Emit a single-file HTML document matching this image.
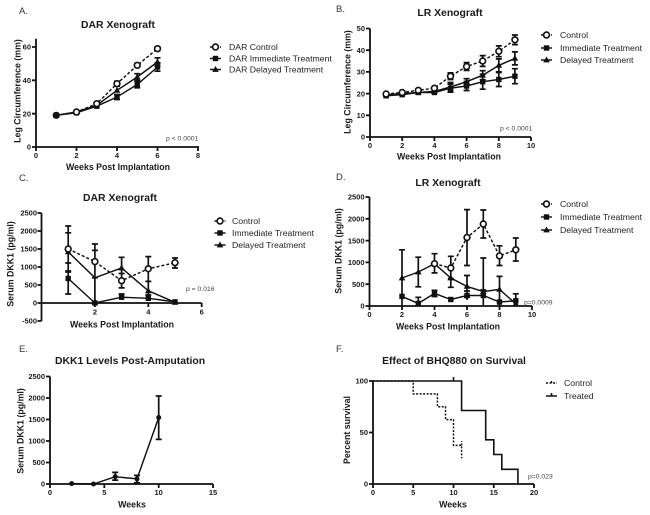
<!DOCTYPE html>
<html><head><meta charset="utf-8"><style>
html,body{margin:0;padding:0;background:#fff;}
svg{display:block;font-family:"Liberation Sans",Arial,sans-serif;}
.ax{stroke:#111;stroke-width:1.8;fill:none;}
.ln{stroke:#111;stroke-width:1.45;fill:none;}
.ds{stroke-dasharray:3 2;}
.eb{stroke:#111;stroke-width:1.7;fill:none;}
.tl{font-weight:bold;font-size:7.5px;fill:#1a1a1a;}
.ttl{font-weight:bold;font-size:10.4px;fill:#1a1a1a;text-anchor:middle;}
.axl{font-weight:bold;font-size:8.8px;fill:#1a1a1a;text-anchor:middle;}
.lg{font-size:8.7px;fill:#222;}
.pl{font-size:9.5px;fill:#333;}
.pv{font-size:6.8px;fill:#444;}
</style></head><body>
<svg width="650" height="515" viewBox="0 0 650 515" xmlns="http://www.w3.org/2000/svg">
<defs>
<circle id="mc" r="2.9" fill="#fff" stroke="#111" stroke-width="1.6"/>
<rect id="ms" x="-2.7" y="-2.7" width="5.4" height="5.4" fill="#111"/>
<path id="mt" d="M0,-3.5L3.3,2.4L-3.3,2.4Z" fill="#111"/>
<circle id="md" r="2.5" fill="#111"/>
</defs>

<!-- Panel letters -->
<text class="pl" x="19" y="14">A.</text>
<text class="pl" x="336" y="12">B.</text>
<text class="pl" x="19" y="181">C.</text>
<text class="pl" x="336" y="180">D.</text>
<text class="pl" x="19" y="352">E.</text>
<text class="pl" x="336" y="352">F.</text>

<!-- ===== Panel A ===== -->
<text class="ttl" x="118" y="28">DAR Xenograft</text>
<path class="ax" d="M36,38.7V147H199"/>
<path class="ax" d="M32,147h4M32,113.7h4M32,80.3h4M32,47h4M36,147v4M76.5,147v4M117,147v4M157.5,147v4M198,147v4"/>
<g class="tl" text-anchor="end">
<text x="31" y="149.7">0</text><text x="31" y="116.4">20</text><text x="31" y="83">40</text><text x="31" y="49.7">60</text>
</g>
<g class="tl" text-anchor="middle">
<text x="36" y="158">0</text><text x="76.5" y="158">2</text><text x="117" y="158">4</text><text x="157.5" y="158">6</text><text x="198" y="158">8</text>
</g>
<text class="axl" x="118" y="170">Weeks Post Implantation</text>
<text class="axl" transform="translate(20.5,91) rotate(-90)">Leg Circumference (mm)</text>
<path class="ln ds" d="M56.25,115.3L76.5,112L96.75,103.7L117,83.7L137.25,65.3L157.5,48.7"/>
<path class="ln" d="M56.25,115.3L76.5,112.8L96.75,106.2L117,97L137.25,84.5L157.5,67"/>
<path class="ln" d="M56.25,115.3L76.5,112L96.75,105.3L117,90.3L137.25,77L157.5,62"/>
<path class="eb" d="M117,81.2V86.2M114,81.2h6M114,86.2h6M137.25,63.3V67.3M134.25,63.3h6M134.25,67.3h6M157.5,46.7V50.7M154.5,46.7h6M154.5,50.7h6
M117,94.5V99.5M114,94.5h6M114,99.5h6M137.25,81.2V87.8M134.25,81.2h6M134.25,87.8h6M157.5,62.8V71.2M154.5,62.8h6M154.5,71.2h6
M137.25,73.7V80.3M134.25,73.7h6M134.25,80.3h6M157.5,57.8V66.2M154.5,57.8h6M154.5,66.2h6"/>
<use href="#ms" x="56.25" y="115.3"/><use href="#ms" x="76.5" y="112.8"/><use href="#ms" x="96.75" y="106.2"/><use href="#ms" x="117" y="97"/><use href="#ms" x="137.25" y="84.5"/><use href="#ms" x="157.5" y="67"/>
<use href="#mt" x="56.25" y="115.3"/><use href="#mt" x="76.5" y="112"/><use href="#mt" x="96.75" y="105.3"/><use href="#mt" x="117" y="90.3"/><use href="#mt" x="137.25" y="77"/><use href="#mt" x="157.5" y="62"/>
<circle cx="56.25" cy="115.3" r="3.6" fill="#111"/>
<use href="#mc" x="76.5" y="112"/><use href="#mc" x="96.75" y="103.7"/><use href="#mc" x="117" y="83.7"/><use href="#mc" x="137.25" y="65.3"/><use href="#mc" x="157.5" y="48.7"/>
<text class="pv" x="166" y="140.5">p &lt; 0.0001</text>
<!-- legend A -->
<path class="ln ds" d="M210,47H221"/><use href="#mc" x="215.5" y="47"/>
<path class="ln" d="M210,58.5H221"/><use href="#ms" x="215.5" y="58.5"/>
<path class="ln" d="M210,69.5H221"/><use href="#mt" x="215.5" y="69.5"/>
<text class="lg" x="229" y="50">DAR Control</text>
<text class="lg" x="229" y="61.5">DAR Immediate Treatment</text>
<text class="lg" x="229" y="72.5">DAR Delayed Treatment</text>

<!-- ===== Panel B ===== -->
<text class="ttl" x="450" y="16">LR Xenograft</text>
<path class="ax" d="M370,28.5V137H531"/>
<path class="ax" d="M366,137h4M366,115.3h4M366,93.6h4M366,71.9h4M366,50.2h4M366,28.5h4M370,137v4M402.2,137v4M434.4,137v4M466.6,137v4M498.8,137v4M531,137v4"/>
<g class="tl" text-anchor="end">
<text x="365" y="139.7">0</text><text x="365" y="118">10</text><text x="365" y="96.3">20</text><text x="365" y="74.6">30</text><text x="365" y="52.9">40</text><text x="365" y="31.2">50</text>
</g>
<g class="tl" text-anchor="middle">
<text x="370" y="148">0</text><text x="402.2" y="148">2</text><text x="434.4" y="148">4</text><text x="466.6" y="148">6</text><text x="498.8" y="148">8</text><text x="531" y="148">10</text>
</g>
<text class="axl" x="449" y="159.5">Weeks Post Implantation</text>
<text class="axl" transform="translate(350.5,82) rotate(-90)">Leg Circumference (mm)</text>
<path class="ln ds" d="M386.1,94L402.2,92.5L418.3,90.3L434.4,88.2L450.5,76.2L466.6,66.5L482.7,61L498.8,51.3L514.9,39.8"/>
<path class="ln" d="M386.1,94.7L402.2,93.6L418.3,92.5L434.4,91.4L450.5,87L466.6,81.7L482.7,75.2L498.8,65.4L514.9,58.4"/>
<path class="ln" d="M386.1,95.8L402.2,94.7L418.3,92.5L434.4,92.5L450.5,88.2L466.6,86L482.7,81.7L498.8,79.5L514.9,76.2"/>
<path class="eb" d="M450.5,72.9V79.5M447.5,72.9h6M447.5,79.5h6M466.6,62.6V70.4M463.6,62.6h6M463.6,70.4h6M482.7,55.6V66.4M479.7,55.6h6M479.7,66.4h6M498.8,45.9V56.7M495.8,45.9h6M495.8,56.7h6M514.9,35V44.6M511.9,35h6M511.9,44.6h6
M450.5,82.5V91.5M447.5,82.5h6M447.5,91.5h6M466.6,78.7V84.7M463.6,78.7h6M463.6,84.7h6M482.7,70.7V79.7M479.7,70.7h6M479.7,79.7h6M498.8,58.9V71.9M495.8,58.9h6M495.8,71.9h6M514.9,51.9V64.9M511.9,51.9h6M511.9,64.9h6
M450.5,84.2V92.2M447.5,84.2h6M447.5,92.2h6M466.6,81.5V90.5M463.6,81.5h6M463.6,90.5h6M482.7,74.2V89.2M479.7,74.2h6M479.7,89.2h6M498.8,72.5V86.5M495.8,72.5h6M495.8,86.5h6M514.9,68.7V83.7M511.9,68.7h6M511.9,83.7h6"/>
<use href="#ms" x="386.1" y="95.8"/><use href="#ms" x="402.2" y="94.7"/><use href="#ms" x="418.3" y="92.5"/><use href="#ms" x="434.4" y="92.5"/><use href="#ms" x="450.5" y="88.2"/><use href="#ms" x="466.6" y="86"/><use href="#ms" x="482.7" y="81.7"/><use href="#ms" x="498.8" y="79.5"/><use href="#ms" x="514.9" y="76.2"/>
<use href="#mt" x="386.1" y="94.7"/><use href="#mt" x="402.2" y="93.6"/><use href="#mt" x="418.3" y="92.5"/><use href="#mt" x="434.4" y="91.4"/><use href="#mt" x="450.5" y="87"/><use href="#mt" x="466.6" y="81.7"/><use href="#mt" x="482.7" y="75.2"/><use href="#mt" x="498.8" y="65.4"/><use href="#mt" x="514.9" y="58.4"/>
<use href="#mc" x="386.1" y="94"/><use href="#mc" x="402.2" y="92.5"/><use href="#mc" x="418.3" y="90.3"/><use href="#mc" x="434.4" y="88.2"/><use href="#mc" x="450.5" y="76.2"/><use href="#mc" x="466.6" y="66.5"/><use href="#mc" x="482.7" y="61"/><use href="#mc" x="498.8" y="51.3"/><use href="#mc" x="514.9" y="39.8"/>
<text class="pv" x="500" y="130.5">p &lt; 0.0001</text>
<path class="ln ds" d="M541,35H552"/><use href="#mc" x="546.5" y="35"/>
<path class="ln" d="M541,48H552"/><use href="#ms" x="546.5" y="48"/>
<path class="ln" d="M541,60H552"/><use href="#mt" x="546.5" y="60"/>
<text class="lg" x="560" y="38">Control</text>
<text class="lg" x="560" y="51">Immediate Treatment</text>
<text class="lg" x="560" y="63">Delayed Treatment</text>

<!-- ===== Panel C ===== -->
<text class="ttl" x="120" y="201">DAR Xenograft</text>
<path class="ax" d="M41.5,213V321M41.5,303H201.7"/>
<path class="ax" d="M37.5,321h4M37.5,303h4M37.5,285h4M37.5,267h4M37.5,249h4M37.5,231h4M37.5,213h4M94.9,303v4M148.3,303v4M201.7,303v4"/>
<g class="tl" text-anchor="end">
<text x="37" y="323.7">-500</text><text x="37" y="305.7">0</text><text x="37" y="287.7">500</text><text x="37" y="269.7">1000</text><text x="37" y="251.7">1500</text><text x="37" y="233.7">2000</text><text x="37" y="215.7">2500</text>
</g>
<g class="tl" text-anchor="middle">
<text x="94.9" y="314.5">2</text><text x="148.3" y="314.5">4</text><text x="201.7" y="314.5">6</text>
</g>
<text class="axl" x="122" y="327.5">Weeks Post Implantation</text>
<text class="axl" transform="translate(13.5,264) rotate(-90)">Serum DKK1 (pg/ml)</text>
<path class="ln ds" d="M68.2,249L94.9,261.6L121.6,280.7L148.3,268.8L175,262.7"/>
<path class="ln" d="M68.2,278.5L94.9,303L121.6,297.2L148.3,298.3L175,301.9"/>
<path class="ln" d="M68.2,251.9L94.9,277.8L121.6,268L148.3,290.8L175,302.3"/>
<path class="eb" d="M68.2,226V272M65.2,226h6M65.2,272h6M94.9,244V277.8M91.9,244h6M91.9,277.8h6M121.6,273.5V287.9M118.6,273.5h6M118.6,287.9h6M148.3,256.6V281.4M145.3,256.6h6M145.3,281.4h6M175,258V268M172,258h6M172,268h6
M68.2,263V294M65.2,263h6M65.2,294h6M121.6,294V300M118.6,294h6M148.3,295V301M145.3,295h6
M68.2,232.8V271M65.2,232.8h6M65.2,271h6M94.9,250.4V303M91.9,250.4h6M121.6,257.3V278.9M118.6,257.3h6M118.6,278.9h6M148.3,281.4V300M145.3,281.4h6"/>
<use href="#ms" x="68.2" y="278.5"/><use href="#ms" x="94.9" y="303"/><use href="#ms" x="121.6" y="297.2"/><use href="#ms" x="148.3" y="298.3"/><use href="#ms" x="175" y="301.9"/>
<use href="#mt" x="68.2" y="251.9"/><use href="#mt" x="94.9" y="302"/><use href="#mt" x="121.6" y="268"/><use href="#mt" x="148.3" y="290.8"/><use href="#mt" x="175" y="302.3"/>
<use href="#mc" x="68.2" y="249"/><use href="#mc" x="94.9" y="261.6"/><use href="#mc" x="121.6" y="280.7"/><use href="#mc" x="148.3" y="268.8"/><use href="#mc" x="175" y="262.7"/>
<text class="pv" x="186" y="291">p = 0.016</text>
<path class="ln ds" d="M214.5,221H225.5"/><use href="#mc" x="220" y="221"/>
<path class="ln" d="M214.5,233H225.5"/><use href="#ms" x="220" y="233"/>
<path class="ln" d="M214.5,245H225.5"/><use href="#mt" x="220" y="245"/>
<text class="lg" x="232" y="224">Control</text>
<text class="lg" x="232" y="236">Immediate Treatment</text>
<text class="lg" x="232" y="248">Delayed Treatment</text>

<!-- ===== Panel D ===== -->
<text class="ttl" x="448" y="186">LR Xenograft</text>
<path class="ax" d="M369.5,197V306H532"/>
<path class="ax" d="M365.5,306h4M365.5,284.2h4M365.5,262.4h4M365.5,240.6h4M365.5,218.8h4M365.5,197h4M369.5,306v4M402,306v4M434.5,306v4M467,306v4M499.5,306v4M532,306v4"/>
<g class="tl" text-anchor="end">
<text x="364.5" y="308.7">0</text><text x="364.5" y="286.9">500</text><text x="364.5" y="265.1">1000</text><text x="364.5" y="243.3">1500</text><text x="364.5" y="221.5">2000</text><text x="364.5" y="199.7">2500</text>
</g>
<g class="tl" text-anchor="middle">
<text x="369.5" y="317">0</text><text x="402" y="317">2</text><text x="434.5" y="317">4</text><text x="467" y="317">6</text><text x="499.5" y="317">8</text><text x="532" y="317">10</text>
</g>
<text class="axl" x="448" y="329.5">Weeks Post Implantation</text>
<text class="axl" transform="translate(341.5,251) rotate(-90)">Serum DKK1  (pg/ml)</text>
<path class="ln ds" d="M434.5,263.7L450.8,268L467,237.5L483.3,224L499.5,255.9L515.8,249.8"/>
<path class="ln" d="M402,278L418.3,272L434.5,263.7L450.8,278L467,286.4L483.3,291.6L499.5,289.4L515.8,303.8"/>
<path class="ln" d="M402,296.4L418.3,303.4L434.5,293.4L450.8,299.5L467,295.5L483.3,295.5L499.5,302L515.8,300.8"/>
<path class="eb" d="M450.8,256.3V278.5M447.8,256.3h6M447.8,278.5h6M467,209.6V265.5M464,209.6h6M464,265.5h6M483.3,210V238M480.3,210h6M480.3,238h6M499.5,245.8V265.5M496.5,245.8h6M496.5,265.5h6M515.8,238V261M512.8,238h6M512.8,261h6
M402,249.8V306M399,249.8h6M418.3,257.2V286.8M415.3,257.2h6M415.3,286.8h6M434.5,253.7V272.9M431.5,253.7h6M431.5,272.9h6M450.8,256.3V287.3M447.8,287.3h6M467,275.5V297.3M464,275.5h6M464,297.3h6M483.3,258V306M480.3,258h6M499.5,276.4V306M496.5,276.4h6M515.8,293.8V306M512.8,293.8h6
M418.3,297.3V306M415.3,297.3h6M434.5,290.3V296.5M431.5,290.3h6M431.5,296.5h6M467,291V300M464,291h6M483.3,290V300M480.3,290h6"/>
<use href="#ms" x="402" y="296.4"/><use href="#ms" x="418.3" y="303.4"/><use href="#ms" x="434.5" y="293.4"/><use href="#ms" x="450.8" y="299.5"/><use href="#ms" x="467" y="295.5"/><use href="#ms" x="483.3" y="295.5"/><use href="#ms" x="499.5" y="302"/><use href="#ms" x="515.8" y="300.8"/>
<use href="#mt" x="402" y="278"/><use href="#mt" x="418.3" y="272"/><use href="#mt" x="434.5" y="263.7"/><use href="#mt" x="450.8" y="278"/><use href="#mt" x="467" y="286.4"/><use href="#mt" x="483.3" y="291.6"/><use href="#mt" x="499.5" y="289.4"/><use href="#mt" x="515.8" y="303.8"/>
<use href="#mc" x="434.5" y="263.7"/><use href="#mc" x="450.8" y="268"/><use href="#mc" x="467" y="237.5"/><use href="#mc" x="483.3" y="224"/><use href="#mc" x="499.5" y="255.9"/><use href="#mc" x="515.8" y="249.8"/>
<text class="pv" x="524" y="304.5">p=0.0009</text>
<path class="ln ds" d="M541,204H552"/><use href="#mc" x="546.5" y="204"/>
<path class="ln" d="M541,217H552"/><use href="#ms" x="546.5" y="217"/>
<path class="ln" d="M541,230H552"/><use href="#mt" x="546.5" y="230"/>
<text class="lg" x="560" y="207">Control</text>
<text class="lg" x="560" y="220">Immediate Treatment</text>
<text class="lg" x="560" y="233">Delayed Treatment</text>

<!-- ===== Panel E ===== -->
<text class="ttl" x="130" y="364">DKK1 Levels Post-Amputation</text>
<path class="ax" d="M50,376.5V484H213"/>
<path class="ax" d="M46,484h4M46,462.5h4M46,441h4M46,419.5h4M46,398h4M46,376.5h4M50,484v4M104.3,484v4M158.7,484v4M213,484v4"/>
<g class="tl" text-anchor="end">
<text x="45" y="486.7">0</text><text x="45" y="465.2">500</text><text x="45" y="443.7">1000</text><text x="45" y="422.2">1500</text><text x="45" y="400.7">2000</text><text x="45" y="379.2">2500</text>
</g>
<g class="tl" text-anchor="middle">
<text x="50" y="495">0</text><text x="104.3" y="495">5</text><text x="158.7" y="495">10</text><text x="213" y="495">15</text>
</g>
<text class="axl" x="132" y="507.5">Weeks</text>
<text class="axl" transform="translate(23.5,431) rotate(-90)">Serum DKK1 (pg/ml)</text>
<path class="ln" d="M71.7,483.6L93.5,484L115.2,476.7L137,478.9L158.7,417.5"/>
<path class="eb" d="M115.2,472.4V480.1M112.2,472.4h6M112.2,480.1h6M137,475.4V482.7M134,475.4h6M134,482.7h6M158.7,396V439.4M155.7,396h6M155.7,439.4h6"/>
<use href="#md" x="71.7" y="483.6"/><use href="#md" x="93.5" y="484"/><use href="#md" x="115.2" y="476.7"/><use href="#md" x="137" y="478.9"/><use href="#md" x="158.7" y="417.5"/>

<!-- ===== Panel F ===== -->
<text class="ttl" x="454" y="364">Effect of BHQ880 on Survival</text>
<path class="ax" d="M373,381V484H534"/>
<path class="ax" d="M369,484h4M369,432.5h4M369,381h4M373,484v4M413.25,484v4M453.5,484v4M493.75,484v4M534,484v4"/>
<g class="tl" text-anchor="end">
<text x="368" y="486.7">0</text><text x="368" y="435.2">50</text><text x="368" y="383.7">100</text>
</g>
<g class="tl" text-anchor="middle">
<text x="373" y="495">0</text><text x="413.25" y="495">5</text><text x="453.5" y="495">10</text><text x="493.75" y="495">15</text><text x="534" y="495">20</text>
</g>
<text class="axl" x="453" y="507.5">Weeks</text>
<text class="axl" transform="translate(350,430) rotate(-90)">Percent survival</text>
<path class="ln" style="stroke-dasharray:2 1.5" d="M373,381H413.25V393.9H437.4V406.75H445.5V419.6H453.5V445.4H461.6V458.25M461.6,445.4V441"/>
<path class="ln" style="stroke-width:1.6" d="M373,381H461.6V410.5H485.7V439.8H493.8V454.5H501.8V469.3H517.9V484M453.5,381V377"/>
<text class="pv" x="528" y="478.5">p=0.023</text>
<path class="ln" style="stroke-dasharray:2 1.5" d="M546,383H557M551.5,383V380"/>
<path class="ln" style="stroke-width:1.6" d="M546,396H557M551.5,396V393"/>
<text class="lg" x="564" y="386">Control</text>
<text class="lg" x="564" y="399">Treated</text>
</svg>
</body></html>
